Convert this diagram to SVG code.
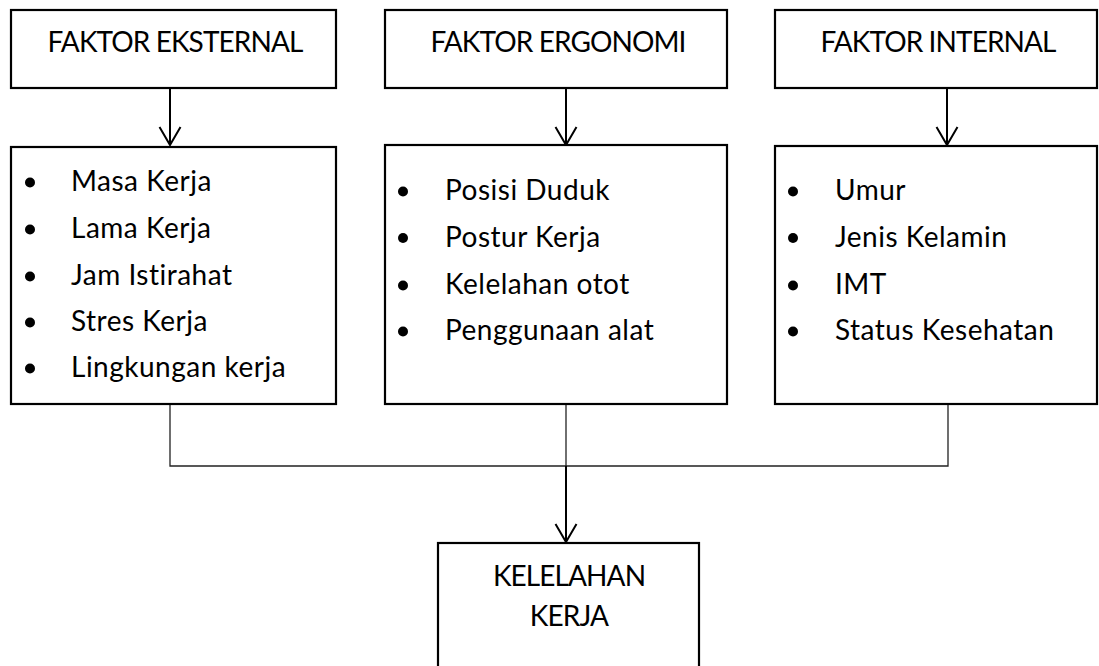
<svg xmlns="http://www.w3.org/2000/svg" width="1099" height="666" viewBox="0 0 1099 666">
<style>
.box{fill:#fff;stroke:#000;stroke-width:2.2}
.t{font-family:Lato,"Open Sans",sans-serif;font-size:28px;fill:#000;letter-spacing:0.5px}
.c{text-anchor:middle;letter-spacing:-0.9px}
.thin{fill:none;stroke:#222;stroke-width:1.3}
.arr{fill:none;stroke:#000;stroke-width:2}
.head{fill:none;stroke:#000;stroke-width:2}
</style>
<rect width="1099" height="666" fill="#fff"/>
<g id="connectors">
<line class="arr" x1="170" y1="88" x2="170" y2="145"/>
<polyline class="head" points="159.5,127 170,145 180.5,127"/>
<line class="arr" x1="566" y1="88" x2="566" y2="145"/>
<polyline class="head" points="555.5,127 566,145 576.5,127"/>
<line class="arr" x1="947" y1="88" x2="947" y2="145"/>
<polyline class="head" points="936.5,127 947,145 957.5,127"/>
<polyline class="thin" points="170,404 170,466 948,466 948,404"/>
<line class="thin" x1="566" y1="404" x2="566" y2="466"/>
<line class="arr" x1="566" y1="466" x2="566" y2="542"/>
<polyline class="head" points="555.5,524 566,542 576.5,524"/>
</g>
<g id="faktor-eksternal">
<rect class="box" x="11" y="10" width="325" height="78"/>
<text class="t c" x="175" y="52">FAKTOR EKSTERNAL</text>
</g>
<g id="faktor-ergonomi">
<rect class="box" x="385" y="10" width="342" height="78"/>
<text class="t c" x="558" y="52">FAKTOR ERGONOMI</text>
</g>
<g id="faktor-internal">
<rect class="box" x="775" y="10" width="322" height="78"/>
<text class="t c" x="938" y="52">FAKTOR INTERNAL</text>
</g>
<g id="list-eksternal">
<rect class="box" x="11" y="147" width="325" height="257"/>
<circle cx="30" cy="182.5" r="5"/>
<circle cx="30" cy="229.5" r="5"/>
<circle cx="30" cy="276.5" r="5"/>
<circle cx="30" cy="322.5" r="5"/>
<circle cx="30" cy="368.5" r="5"/>
<text class="t" x="71" y="191">Masa Kerja</text>
<text class="t" x="71" y="238">Lama Kerja</text>
<text class="t" x="71" y="285">Jam Istirahat</text>
<text class="t" x="71" y="331">Stres Kerja</text>
<text class="t" x="71" y="377">Lingkungan kerja</text>
</g>
<g id="list-ergonomi">
<rect class="box" x="385" y="145" width="342" height="259"/>
<circle cx="403" cy="191.5" r="5"/>
<circle cx="403" cy="238" r="5"/>
<circle cx="403" cy="285.5" r="5"/>
<circle cx="403" cy="331.5" r="5"/>
<text class="t" x="445" y="200">Posisi Duduk</text>
<text class="t" x="445" y="246.5">Postur Kerja</text>
<text class="t" x="445" y="294">Kelelahan otot</text>
<text class="t" x="445" y="340">Penggunaan alat</text>
</g>
<g id="list-internal">
<rect class="box" x="775" y="146" width="322" height="258"/>
<circle cx="793" cy="191.5" r="5"/>
<circle cx="793" cy="238" r="5"/>
<circle cx="793" cy="285.5" r="5"/>
<circle cx="793" cy="331.5" r="5"/>
<text class="t" x="835" y="200">Umur</text>
<text class="t" x="835" y="246.5">Jenis Kelamin</text>
<text class="t" x="835" y="294">IMT</text>
<text class="t" x="835" y="340">Status Kesehatan</text>
</g>
<g id="kelelahan-kerja">
<rect class="box" x="438" y="543" width="261" height="130"/>
<text class="t c" x="569" y="586">KELELAHAN</text>
<text class="t c" x="569" y="626">KERJA</text>
</g>
</svg>
